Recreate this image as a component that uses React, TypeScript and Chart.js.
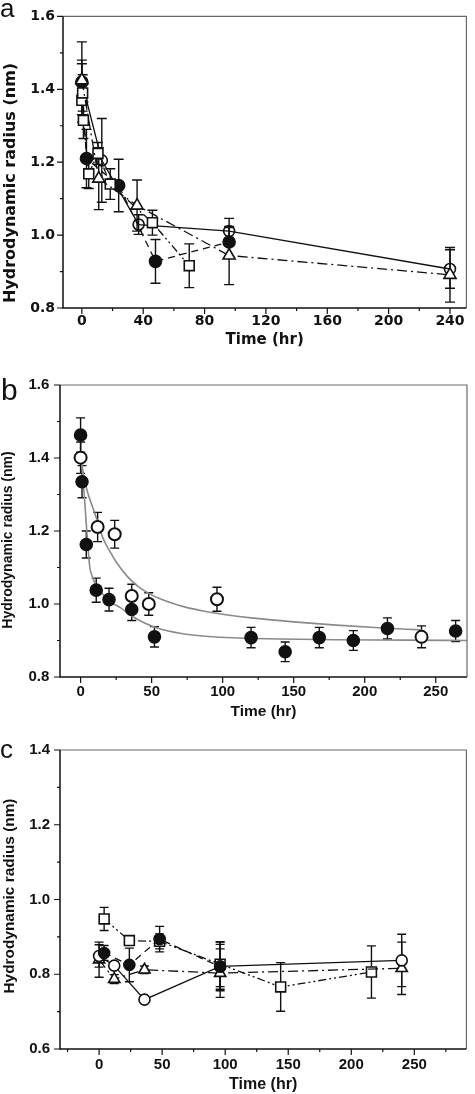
import React, { useEffect, useRef } from 'react';
import { Chart, registerables } from 'chart.js';

Chart.register(...registerables);

// ================= Panel a =================
const A_X_TICKS = [0, 40, 80, 120, 160, 200, 240];
const A_X_MINOR = [20, 60, 100, 140, 180, 220];
const A_Y_TICKS = [0.8, 1.0, 1.2, 1.4, 1.6];
const A_Y_MINOR = [0.9, 1.1, 1.3, 1.5];

const A_FILLED_T = [0, 3, 24, 48, 96];
const A_FILLED_R = [1.42, 1.21, 1.136, 0.928, 0.981];
const A_FILLED_E = [0.05, 0.08, 0.072, 0.06, 0.04];

const A_OPEN_T = [0, 13, 37, 96, 240];
const A_OPEN_R = [1.42, 1.205, 1.029, 1.011, 0.907];
const A_OPEN_E = [0.11, 0.115, 0.027, 0.035, 0.053];

const A_TRI_T = [0, 11, 36, 96, 240];
const A_TRI_R = [1.425, 1.155, 1.081, 0.944, 0.891];
const A_TRI_E = [0.055, 0.085, 0.07, 0.08, 0.075];

const A_SQ_T = [0, 0.5, 1, 4.5, 10.5, 18.5, 46, 70];
const A_SQ_R = [1.37, 1.39, 1.315, 1.168, 1.224, 1.14, 1.034, 0.916];
const A_SQ_E = [0.04, 0.05, 0.05, 0.04, 0.03, 0.042, 0.034, 0.06];

// ================= Panel b =================
const B_X_TICKS = [0, 50, 100, 150, 200, 250];
const B_X_MINOR = [25, 75, 125, 175, 225];
const B_Y_TICKS = [0.8, 1.0, 1.2, 1.4, 1.6];
const B_Y_MINOR = [0.9, 1.1, 1.3, 1.5];

const B_FILLED_T = [0, 1, 4, 11, 20, 36, 52, 120, 144, 168, 192, 216, 264];
const B_FILLED_R = [1.463, 1.335, 1.163, 1.038, 1.012, 0.985, 0.91, 0.908, 0.869, 0.908, 0.9, 0.933, 0.926];
const B_FILLED_E = [0.047, 0.044, 0.037, 0.033, 0.031, 0.03, 0.028, 0.028, 0.027, 0.028, 0.027, 0.029, 0.029];

const B_OPEN_T = [0, 12, 24, 36, 48, 96, 240];
const B_OPEN_R = [1.401, 1.211, 1.191, 1.022, 1.0, 1.013, 0.91];
const B_OPEN_E = [0.043, 0.04, 0.038, 0.032, 0.031, 0.033, 0.03];

// fitted curves
const B_FIT_FILLED_T = [0.5, 2, 4, 5.5, 6.5, 8, 10, 13, 17, 22, 28, 36, 45, 55, 70, 90, 110, 140, 180, 230, 272];
const B_FIT_FILLED_R = [1.4, 1.33, 1.22, 1.14, 1.1, 1.078, 1.058, 1.04, 1.02, 1.003, 0.99, 0.967, 0.948, 0.933, 0.92, 0.911, 0.907, 0.904, 0.902, 0.901, 0.9];
const B_FIT_OPEN_T = [0.5, 2.8, 5, 8.5, 12, 15.4, 20, 25.8, 33, 40.8, 50, 61.5, 75, 89, 100, 120, 150, 180, 210, 240];
const B_FIT_OPEN_R = [1.39, 1.34, 1.305, 1.265, 1.225, 1.184, 1.148, 1.111, 1.075, 1.047, 1.025, 1.006, 0.99, 0.979, 0.972, 0.962, 0.951, 0.942, 0.935, 0.929];

// ================= Panel c =================
const C_X_TICKS = [0, 50, 100, 150, 200, 250];
const C_X_MINOR = [-25, 25, 75, 125, 175, 225, 275];
const C_Y_TICKS = [0.6, 0.8, 1.0, 1.2, 1.4];
const C_Y_MINOR = [0.7, 0.9, 1.1, 1.3];

const C_FILLED_T = [4, 24, 48, 96];
const C_FILLED_R = [0.857, 0.825, 0.894, 0.82];
const C_FILLED_E = [0.02, 0.045, 0.034, 0.06];

const C_OPEN_T = [0, 12, 36, 96, 240];
const C_OPEN_R = [0.849, 0.823, 0.732, 0.821, 0.837];
const C_OPEN_E = [0.03, 0.01, 0.008, 0.065, 0.07];

const C_TRI_T = [0, 12, 36, 96, 240];
const C_TRI_R = [0.839, 0.787, 0.812, 0.803, 0.816];
const C_TRI_E = [0.047, 0.012, 0.01, 0.065, 0.07];

const C_SQ_T = [4, 24, 48, 96, 144, 216];
const C_SQ_R = [0.948, 0.89, 0.888, 0.827, 0.766, 0.806];
const C_SQ_E = [0.031, 0.012, 0.02, 0.06, 0.065, 0.07];

const X_TITLE = 'Time (hr)';
const Y_TITLE = 'Hydrodynamic radius (nm)';

// ================= helpers =================
const INK = '#111';
const DASHED = [7, 5];
const DASH_DOT = [10, 4, 2, 4];
const DASH_DOT_DOT = [8, 3, 2, 3, 2, 3];
const SOLID: number[] = [];

const pts = (xs: number[], ys: number[]) => xs.map((x, i) => ({ x, y: ys[i] }));

type Kind = 'filled' | 'open' | 'tri' | 'square';

function marker(
  kind: Kind,
  t: number[],
  r: number[],
  e: number[],
  dash: number[] | null,
  radius: number,
  openFill = '#fff',
  bw = 1.6
) {
  const style = kind === 'tri' ? 'triangle' : kind === 'square' ? 'rect' : 'circle';
  const bg = kind === 'filled' ? INK : kind === 'open' ? openFill : '#fff';
  return {
    data: pts(t, r),
    errorBars: e,
    showLine: dash !== null,
    borderColor: INK,
    borderWidth: 1.3,
    borderDash: dash || [],
    pointStyle: style,
    pointRadius: radius,
    pointBackgroundColor: bg,
    pointBorderColor: INK,
    pointBorderWidth: bw,
    fill: false,
    tension: 0,
  };
}

function fitLine(t: number[], r: number[]) {
  return {
    data: pts(t, r),
    showLine: true,
    borderColor: '#8a8a8a',
    borderWidth: 1.6,
    pointRadius: 0,
    cubicInterpolationMode: 'monotone',
    fill: false,
    order: 5,
  };
}

interface PanelCfg {
  top: number;
  height: number;
  padTop: number;
  padRight: number;
  yWidth: number;
  xHeight: number;
  xMin: number;
  xMax: number;
  yMin: number;
  yMax: number;
  xTicks: number[];
  xMinor: number[];
  yTicks: number[];
  yMinor: number[];
  family: string;
  tickSize: number;
  xTitleSize: number;
  yTitleSize: number;
  xTickPad: number;
  yTickPad: number;
  xTitlePad: number;
  yTitleX: number;
  yTitleY: number;
  letter: string;
  letterX: number;
  letterY: number;
  letterSize: number;
  cap: number;
  datasets: any[];
}

const PANEL_A: PanelCfg = {
  top: 0,
  height: 362,
  padTop: 7,
  padRight: 2,
  yWidth: 63,
  xHeight: 54,
  xMin: -12.3,
  xMax: 250.7,
  yMin: 0.8,
  yMax: 1.6,
  xTicks: A_X_TICKS,
  xMinor: A_X_MINOR,
  yTicks: A_Y_TICKS,
  yMinor: A_Y_MINOR,
  family: '"DejaVu Sans", sans-serif',
  tickSize: 14,
  xTitleSize: 15,
  yTitleSize: 16,
  xTickPad: 4.6,
  yTickPad: 8,
  xTitlePad: 13,
  yTitleX: 11,
  yTitleY: 183,
  letter: 'a',
  letterX: 0,
  letterY: 17,
  letterSize: 26,
  cap: 5,
  datasets: [
    marker('tri', A_TRI_T, A_TRI_R, A_TRI_E, DASH_DOT, 7),
    marker('square', A_SQ_T, A_SQ_R, A_SQ_E, DASH_DOT_DOT, 7),
    marker('open', A_OPEN_T, A_OPEN_R, A_OPEN_E, SOLID, 5.5, 'rgba(255,255,255,0)'),
    marker('filled', A_FILLED_T, A_FILLED_R, A_FILLED_E, DASHED, 6),
  ],
};

const PANEL_B: PanelCfg = {
  top: 362,
  height: 366,
  padTop: 23,
  padRight: 1,
  yWidth: 60,
  xHeight: 51,
  xMin: -14.5,
  xMax: 272,
  yMin: 0.8,
  yMax: 1.6,
  xTicks: B_X_TICKS,
  xMinor: B_X_MINOR,
  yTicks: B_Y_TICKS,
  yMinor: B_Y_MINOR,
  family: '"Liberation Sans", Arial, sans-serif',
  tickSize: 15,
  xTitleSize: 15.5,
  yTitleSize: 14,
  xTickPad: 6,
  yTickPad: 10.7,
  xTitlePad: 6.7,
  yTitleX: 8.4,
  yTitleY: 178,
  letter: 'b',
  letterX: 1,
  letterY: 38,
  letterSize: 30,
  cap: 4.5,
  datasets: [
    marker('filled', B_FILLED_T, B_FILLED_R, B_FILLED_E, null, 6),
    marker('open', B_OPEN_T, B_OPEN_R, B_OPEN_E, null, 6, '#fff', 2),
    fitLine(B_FIT_FILLED_T, B_FIT_FILLED_R),
    fitLine(B_FIT_OPEN_T, B_FIT_OPEN_R),
  ],
};

const PANEL_C: PanelCfg = {
  top: 728,
  height: 366,
  padTop: 22,
  padRight: 7,
  yWidth: 60,
  xHeight: 45,
  xMin: -31,
  xMax: 291.3,
  yMin: 0.6,
  yMax: 1.4,
  xTicks: C_X_TICKS,
  xMinor: C_X_MINOR,
  yTicks: C_Y_TICKS,
  yMinor: C_Y_MINOR,
  family: '"Liberation Sans", Arial, sans-serif',
  tickSize: 15,
  xTitleSize: 16,
  yTitleSize: 15.4,
  xTickPad: 7,
  yTickPad: 10,
  xTitlePad: 0,
  yTitleX: 10,
  yTitleY: 168,
  letter: 'c',
  letterX: 0,
  letterY: 30,
  letterSize: 26,
  cap: 4.5,
  datasets: [
    marker('filled', C_FILLED_T, C_FILLED_R, C_FILLED_E, DASHED, 5.5),
    marker('open', C_OPEN_T, C_OPEN_R, C_OPEN_E, SOLID, 5.5),
    marker('tri', C_TRI_T, C_TRI_R, C_TRI_E, DASH_DOT, 6.5),
    marker('square', C_SQ_T, C_SQ_R, C_SQ_E, DASH_DOT_DOT, 7),
  ],
};

function buildConfig(cfg: PanelCfg): any {
  const decor = {
    id: 'decor',
    beforeDatasetsDraw(chart: any) {
      const ctx = chart.ctx;
      const ys = chart.scales.y;
      ctx.save();
      ctx.strokeStyle = INK;
      ctx.lineWidth = 1.4;
      ctx.setLineDash([]);
      chart.data.datasets.forEach((ds: any, i: number) => {
        if (!ds.errorBars) return;
        const meta = chart.getDatasetMeta(i);
        ds.data.forEach((p: any, j: number) => {
          const e = ds.errorBars[j];
          if (!e) return;
          const px = meta.data[j].x;
          const y1 = ys.getPixelForValue(p.y + e);
          const y2 = ys.getPixelForValue(p.y - e);
          ctx.beginPath();
          ctx.moveTo(px, y1);
          ctx.lineTo(px, y2);
          ctx.moveTo(px - cfg.cap, y1);
          ctx.lineTo(px + cfg.cap, y1);
          ctx.moveTo(px - cfg.cap, y2);
          ctx.lineTo(px + cfg.cap, y2);
          ctx.stroke();
        });
      });
      ctx.restore();
    },
    afterDraw(chart: any) {
      const ctx = chart.ctx;
      const a = chart.chartArea;
      const xs = chart.scales.x;
      const ys = chart.scales.y;
      ctx.save();
      ctx.setLineDash([]);
      ctx.strokeStyle = '#6a6a6a';
      ctx.lineWidth = 1.2;
      ctx.beginPath();
      ctx.moveTo(a.left, a.top);
      ctx.lineTo(a.right, a.top);
      ctx.lineTo(a.right, a.bottom);
      ctx.stroke();
      ctx.strokeStyle = INK;
      ctx.lineWidth = 1.5;
      ctx.beginPath();
      ctx.moveTo(a.left, a.top);
      ctx.lineTo(a.left, a.bottom);
      ctx.lineTo(a.right, a.bottom);
      ctx.stroke();
      ctx.lineWidth = 1.2;
      ctx.beginPath();
      cfg.xTicks.forEach((v) => {
        const p = xs.getPixelForValue(v);
        ctx.moveTo(p, a.bottom);
        ctx.lineTo(p, a.bottom + 6);
      });
      cfg.xMinor.forEach((v) => {
        const p = xs.getPixelForValue(v);
        ctx.moveTo(p, a.bottom);
        ctx.lineTo(p, a.bottom + 3);
      });
      cfg.yTicks.forEach((v) => {
        const p = ys.getPixelForValue(v);
        ctx.moveTo(a.left, p);
        ctx.lineTo(a.left - 6, p);
      });
      cfg.yMinor.forEach((v) => {
        const p = ys.getPixelForValue(v);
        ctx.moveTo(a.left, p);
        ctx.lineTo(a.left - 3, p);
      });
      ctx.stroke();
      ctx.fillStyle = INK;
      // panel letter
      ctx.font = `${cfg.letterSize}px "Liberation Sans", Arial, sans-serif`;
      ctx.textAlign = 'left';
      ctx.textBaseline = 'alphabetic';
      ctx.fillText(cfg.letter, cfg.letterX, cfg.letterY);
      // y axis title
      ctx.save();
      ctx.translate(cfg.yTitleX, cfg.yTitleY);
      ctx.rotate(-Math.PI / 2);
      ctx.font = `bold ${cfg.yTitleSize}px ${cfg.family}`;
      ctx.textAlign = 'center';
      ctx.textBaseline = 'middle';
      ctx.fillText(Y_TITLE, 0, 0);
      ctx.restore();
      ctx.restore();
    },
  };

  const tickFont = { family: cfg.family, size: cfg.tickSize, weight: 'bold' };

  return {
    type: 'scatter',
    data: { datasets: cfg.datasets },
    options: {
      responsive: false,
      maintainAspectRatio: false,
      animation: false,
      events: [],
      layout: { padding: { left: 0, top: cfg.padTop, right: cfg.padRight, bottom: 0 } },
      plugins: { legend: { display: false }, tooltip: { enabled: false } },
      scales: {
        x: {
          type: 'linear',
          position: 'bottom',
          min: cfg.xMin,
          max: cfg.xMax,
          grid: { display: false, drawTicks: false },
          border: { display: false },
          afterBuildTicks: (s: any) => {
            s.ticks = cfg.xTicks.map((v) => ({ value: v }));
          },
          afterFit: (s: any) => {
            s.height = cfg.xHeight;
          },
          ticks: {
            padding: cfg.xTickPad,
            color: INK,
            font: tickFont,
            autoSkip: false,
            maxRotation: 0,
            callback: (v: any) => String(v),
          },
          title: {
            display: true,
            text: X_TITLE,
            color: INK,
            font: { family: cfg.family, size: cfg.xTitleSize, weight: 'bold' },
            padding: { top: 0, bottom: cfg.xTitlePad },
          },
        },
        y: {
          type: 'linear',
          position: 'left',
          min: cfg.yMin,
          max: cfg.yMax,
          grid: { display: false, drawTicks: false },
          border: { display: false },
          afterBuildTicks: (s: any) => {
            s.ticks = cfg.yTicks.map((v) => ({ value: v }));
          },
          afterFit: (s: any) => {
            s.width = cfg.yWidth;
          },
          ticks: {
            padding: cfg.yTickPad,
            color: INK,
            font: tickFont,
            autoSkip: false,
            callback: (v: any) => Number(v).toFixed(1),
          },
          title: { display: false },
        },
      },
    },
    plugins: [decor],
  };
}

function Panel({ cfg }: { cfg: PanelCfg }) {
  const ref = useRef<HTMLCanvasElement | null>(null);
  useEffect(() => {
    if (!ref.current) return;
    const chart = new Chart(ref.current, buildConfig(cfg));
    return () => chart.destroy();
  }, [cfg]);
  return (
    <canvas
      ref={ref}
      width={475}
      height={cfg.height}
      style={{ position: 'absolute', left: 0, top: cfg.top, width: 475, height: cfg.height, display: 'block' }}
    />
  );
}

export default function App() {
  return (
    <div style={{ position: 'absolute', left: 0, top: 0, width: 475, height: 1094, background: '#fff', overflow: 'hidden' }}>
      <Panel cfg={PANEL_A} />
      <Panel cfg={PANEL_B} />
      <Panel cfg={PANEL_C} />
    </div>
  );
}
